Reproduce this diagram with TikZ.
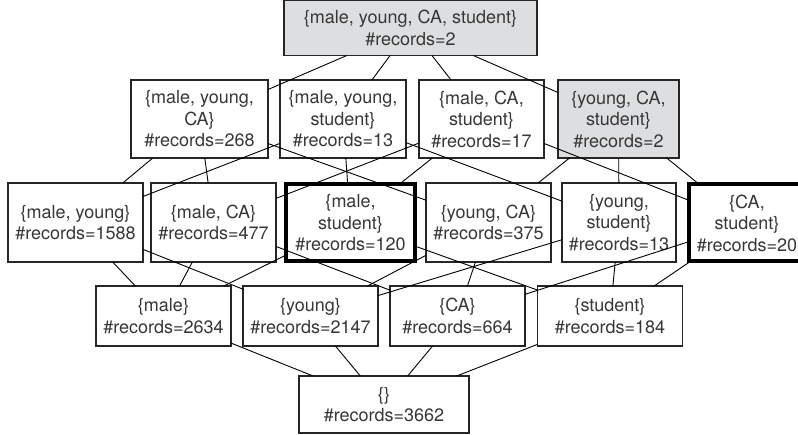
\documentclass[tikz,border=0pt]{standalone}
\usepackage{fontspec}
\setmainfont{TeX Gyre Heros}
\definecolor{boxgray}{RGB}{221,222,224}
\definecolor{txt}{RGB}{55,55,55}
\begin{document}
\begin{tikzpicture}[x=1pt,y=-1pt,
  lat/.style={draw=black!85, line width=1.1pt, fill=white, inner sep=0pt, outer sep=0pt,
    align=center, font=\fontsize{18}{21.5}\selectfont, text=txt},
  selbox/.style={lat, line width=4pt, draw=black},
  graybox/.style={lat, fill=boxgray},
  edge/.style={line width=0.9pt, black}]
\useasboundingbox (0,0) rectangle (798,435);
\clip (0,0) rectangle (798,435);
% top
\node[graybox, minimum width=253pt, minimum height=55pt] (top) at (410.5,28) {\{male, young, CA, student\}\\\#records=2};
% row 2
\node[lat, minimum width=137pt, minimum height=78pt] (A) at (199.5,119) {\{male, young,\\CA\}\\\#records=268};
\node[lat, minimum width=126pt, minimum height=78pt] (B) at (343,119) {\{male, young,\\student\}\\\#records=13};
\node[lat, minimum width=125pt, minimum height=78pt] (C) at (481.5,119) {\{male, CA,\\student\}\\\#records=17};
\node[graybox, minimum width=121pt, minimum height=78pt] (D) at (618.5,119) {\{young, CA,\\student\}\\\#records=2};
% row 3
\node[lat, minimum width=135pt, minimum height=79pt] (E) at (75.5,222.5) {\{male, young\}\\\#records=1588};
\node[lat, minimum width=125pt, minimum height=79pt] (F) at (213.5,222.5) {\{male, CA\}\\\#records=477};
\node[selbox, minimum width=129pt, minimum height=77pt] (G) at (350.5,223) {\{male,\\student\}\\\#records=120};
\node[lat, minimum width=125pt, minimum height=79pt] (H) at (488.5,222.5) {\{young, CA\}\\\#records=375};
\node[lat, minimum width=114pt, minimum height=79pt] (I) at (619,222.5) {\{young,\\student\}\\\#records=13};
\node[selbox, minimum width=116pt, minimum height=77pt] (J) at (747,223) {\{CA,\\student\}\\\#records=20};
% row 4
\node[lat, minimum width=135pt, minimum height=60pt] (K) at (163.5,316) {\{male\}\\\#records=2634};
\node[lat, minimum width=135pt, minimum height=60pt] (L) at (310.5,316) {\{young\}\\\#records=2147};
\node[lat, minimum width=135pt, minimum height=60pt] (M) at (457.5,316) {\{CA\}\\\#records=664};
\node[lat, minimum width=145pt, minimum height=60pt] (N) at (610,316) {\{student\}\\\#records=184};
% bottom
\node[lat, minimum width=170pt, minimum height=57pt] (bot) at (384,404.5) {\{\}\\\#records=3662};
% edges
\foreach \a/\b in {top/A,top/B,top/C,top/D,
  A/E,A/F,A/H, B/E,B/G,B/I, C/F,C/G,C/J, D/H,D/I,D/J,
  E/K,E/L, F/K,F/M, G/K,G/N, H/L,H/M, I/L,I/N, J/M,J/N,
  K/bot,L/bot,M/bot,N/bot}
  \draw[edge] (\a) -- (\b);
\end{tikzpicture}
\end{document}
